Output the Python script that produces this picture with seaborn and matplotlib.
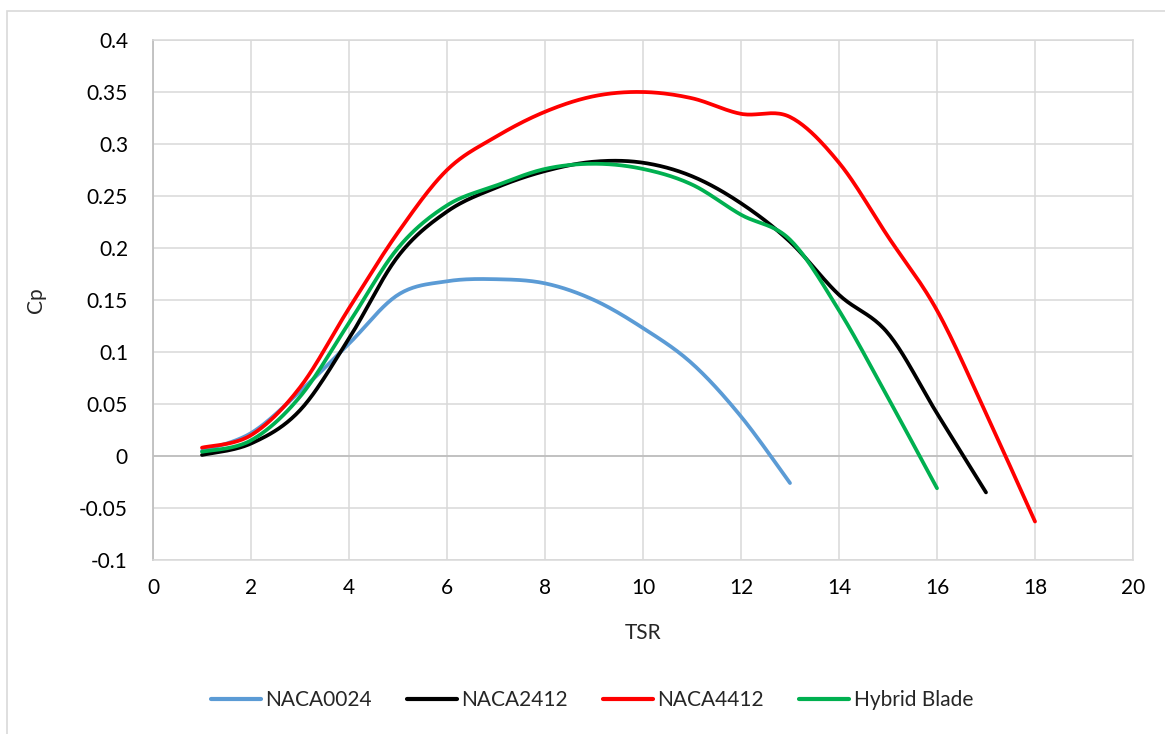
import numpy as np
import pandas as pd
import matplotlib
matplotlib.use("Agg")
import matplotlib.pyplot as plt
import seaborn as sns

# Cp vs TSR
tsr_0024 = [1, 2, 3, 4, 5, 6, 7, 8, 9, 10, 11, 12, 13]
cp_0024 = [0.005, 0.022, 0.062, 0.108, 0.155, 0.168, 0.170, 0.166, 0.150, 0.123, 0.089, 0.038, -0.026]

tsr_2412 = [1, 2, 3, 4, 5, 6, 7, 8, 9, 10, 11, 12, 13, 14, 15, 16, 17]
cp_2412 = [0.001, 0.012, 0.044, 0.113, 0.192, 0.235, 0.258, 0.274, 0.283, 0.282,
           0.269, 0.243, 0.206, 0.155, 0.118, 0.041, -0.035]

tsr_4412 = [1, 2, 3, 4, 5, 6, 7, 8, 9, 10, 11, 12, 13, 14, 15, 16, 17, 18]
cp_4412 = [0.008, 0.020, 0.066, 0.142, 0.215, 0.275, 0.307, 0.331, 0.346, 0.350,
           0.344, 0.329, 0.326, 0.282, 0.211, 0.140, 0.041, -0.063]

tsr_hybrid = [1, 2, 3, 4, 5, 6, 7, 8, 9, 10, 11, 12, 13, 14, 15, 16]
cp_hybrid = [0.004, 0.015, 0.057, 0.128, 0.200, 0.241, 0.260, 0.276, 0.281, 0.276,
             0.261, 0.232, 0.208, 0.140, 0.056, -0.031]

series_names = ["NACA0024", "NACA2412", "NACA4412", "Hybrid Blade"]
series_colors = ["#5B9BD5", "#000000", "#FF0000", "#00B050"]


def smooth(x, y, n=24):
    # excel-style smoothed line (bezier through the points, tension 1/6)
    x = np.asarray(x, float)
    y = np.asarray(y, float)
    p = np.column_stack([x, y])
    pp = np.vstack([p[0], p, p[-1]])
    out = [p[0]]
    t = np.linspace(0, 1, n)[1:, None]
    for i in range(len(p) - 1):
        p0, p3 = pp[i + 1], pp[i + 2]
        c1 = p0 + (pp[i + 2] - pp[i]) / 6
        c2 = p3 - (pp[i + 3] - pp[i + 1]) / 6
        seg = ((1 - t) ** 3) * p0 + 3 * ((1 - t) ** 2) * t * c1 + 3 * (1 - t) * t ** 2 * c2 + t ** 3 * p3
        out.extend(seg)
    out = np.array(out)
    return out[:, 0], out[:, 1]


frames = []
for name, xs, ys in zip(series_names,
                        [tsr_0024, tsr_2412, tsr_4412, tsr_hybrid],
                        [cp_0024, cp_2412, cp_4412, cp_hybrid]):
    sx, sy = smooth(xs, ys)
    frames.append(pd.DataFrame({"TSR": sx, "Cp": sy, "Blade": name}))
df = pd.concat(frames, ignore_index=True)

sns.set_theme(style="white")
plt.rcParams["font.family"] = ["Lato", "DejaVu Sans"]

fig = plt.figure(figsize=(11.65, 7.34), dpi=100)
ax = fig.add_axes([153 / 1165, 1 - 560 / 734, 980 / 1165, 520 / 734])

# outer chart border (cropped on right and bottom)
fig.patches.append(plt.Rectangle((7 / 1165, -0.1), 1.2, 1 - 11 / 734 + 0.1,
                                 transform=fig.transFigure, fill=False,
                                 edgecolor="#D9D9D9", linewidth=1.2))

sns.lineplot(data=df, x="TSR", y="Cp", hue="Blade", hue_order=series_names,
             palette=series_colors, sort=False, estimator=None, units="Blade",
             linewidth=2.7, ax=ax, legend=False)

ax.set_xlim(0, 20)
ax.set_ylim(-0.1, 0.4)
ax.set_xticks(np.arange(0, 21, 2))
ax.set_yticks(np.round(np.arange(-0.1, 0.401, 0.05), 2))
ax.set_yticklabels(["-0.1", "-0.05", "0", "0.05", "0.1", "0.15", "0.2", "0.25", "0.3", "0.35", "0.4"])
ax.grid(True, color="#D9D9D9", linewidth=1.1)
ax.set_axisbelow(True)
ax.axhline(0, color="#BFBFBF", linewidth=1.3, zorder=1)
for side in ["top", "right", "bottom"]:
    ax.spines[side].set_color("#D9D9D9")
    ax.spines[side].set_linewidth(1.1)
ax.spines["left"].set_color("#BFBFBF")
ax.spines["left"].set_linewidth(1.3)
ax.tick_params(axis="both", length=0, labelsize=15, colors="#000000")
ax.tick_params(axis="x", pad=13)
ax.tick_params(axis="y", pad=18)

ax.set_xlabel("TSR", fontsize=15, labelpad=18)
ax.set_ylabel("Cp", fontsize=15, labelpad=24)

handles = [plt.Line2D([], [], color=c, linewidth=3) for c in series_colors]
fig.legend(handles, series_names, loc="center", bbox_to_anchor=(0.508, 0.046),
           ncol=4, frameon=False, fontsize=15, handlelength=2.4,
           handletextpad=0.2, columnspacing=1.7)

fig.savefig("out.png", dpi=100)
